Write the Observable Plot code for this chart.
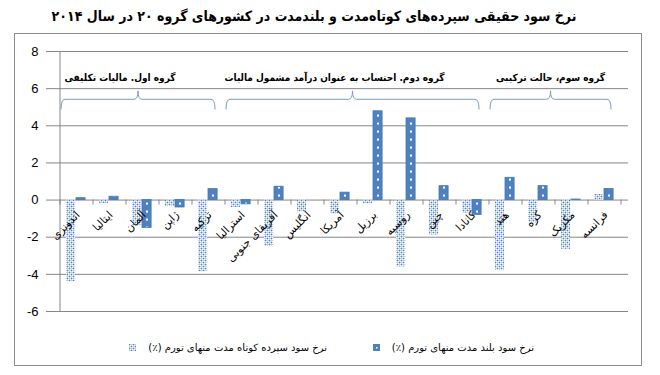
<!DOCTYPE html>
<html><head><meta charset="utf-8">
<script src="https://cdn.jsdelivr.net/npm/d3@7"></script>
<script src="https://cdn.jsdelivr.net/npm/@observablehq/plot@0.6"></script>
<style>
body{margin:0;background:#fff;width:660px;height:375px;position:relative;overflow:hidden;font-family:"DejaVu Sans",sans-serif;}
#title{position:absolute;left:20px;width:588px;top:8px;text-align:center;font-weight:bold;font-size:14px;font-family:"DejaVu Sans Condensed","DejaVu Sans",sans-serif;direction:rtl;color:#000;white-space:nowrap;}
#frame{position:absolute;left:14px;top:33px;width:626px;height:331px;border:1px solid #8c8c8c;}
#chart{position:absolute;left:0;top:0;}
.leg{position:absolute;top:308px;font-size:10px;direction:rtl;display:flex;align-items:center;gap:12px;white-space:nowrap;color:#000;}
.sw{width:7px;height:7px;display:inline-block;}
</style></head>
<body>
<div id="title">نرخ سود حقیقی سپرده‌های کوتاه‌مدت و بلندمدت در کشورهای گروه ۲۰ در سال ۲۰۱۴</div>
<div id="frame">
  <div id="chart"></div>
  <div class="leg" id="legLong" style="right:107px"><span>نرخ سود بلند مدت منهای تورم (٪)</span><svg class="sw" width="7" height="7"><rect width="7" height="7" fill="#4f81bd"/><rect x="3" y="3" width="1.5" height="1.5" fill="#fff"/></svg></div>
  <div class="leg" id="legShort" style="right:314px"><span>نرخ  سود سپرده کوتاه مدت منهای تورم (٪)</span><svg class="sw" width="7" height="7"><rect width="7" height="7" fill="url(#pShort)"/></svg></div>
</div>
<script>
// ---- data ----
const countries = ["اندونزی","ایتالیا","آلمان","ژاپن","ترکیه","استرالیا","آفریقای جنوبی","انگلیس","آمریکا","برزیل","روسیه","چین","کانادا","هند","کره","مکزیک","فرانسه"];
const shortRate = [-4.4,-0.18,-1.4,-0.35,-3.85,-0.4,-2.5,-0.63,-0.75,-0.2,-3.6,-1.88,-0.7,-3.8,-1.22,-2.65,0.3];
const longRate  = [0.1,0.18,-1.5,-0.4,0.59,-0.23,0.72,0,0.4,4.78,4.4,0.75,-0.8,1.2,0.75,0.03,0.6];
const yTicks = [-6,-4,-2,0,2,4,6,8];
const groupNames = ["گروه اول. مالیات تکلیفی","گروه دوم. احتساب به عنوان درآمد مشمول مالیات","گروه سوم، حالت ترکیبی"];
const groupStart = ["اندونزی","استرالیا","هند"];
const groupEnd   = ["ترکیه","کانادا","فرانسه"];
const seriesNames = ["نرخ  سود سپرده کوتاه مدت منهای تورم (٪)","نرخ سود بلند مدت منهای تورم (٪)"];

const rows = countries.map((c,i)=>({country:c, short:shortRate[i], long:longRate[i]}));

// ---- layout ----
const W = 626, H = 290, ML = 37, MR = 13, MT = 17, MB = 13;
const step = (W - ML - MR) / countries.length;
const barW = 10, shortIn = 6;
const longIn = shortIn + barW;
const gridColor = "#868686";
const brEnd = 4.85, brLine = 5.4, brTip = 5.85, brText = 6.55;

function defsMark(index, scales) {
  const x = scales.x, y = scales.y, bw = x.bandwidth();
  const defs = d3.create("svg:defs");
  const ps = defs.append("pattern").attr("id","pShort").attr("patternUnits","userSpaceOnUse").attr("width",4).attr("height",4);
  ps.append("rect").attr("width",4).attr("height",4).attr("fill","#bcd0ec");
  for (const [a,b] of [[1,1],[3,3],[3,1],[1,3]])
    ps.append("rect").attr("x",a).attr("y",b).attr("width",1).attr("height",1).attr("fill","#ffffff");
  for (const [a,b] of [[0,0],[2,2]])
    ps.append("rect").attr("x",a).attr("y",b).attr("width",1).attr("height",1).attr("fill","#4f81bd");
  const pl = defs.append("pattern").attr("id","pLong").attr("patternUnits","userSpaceOnUse")
    .attr("x", x(countries[0])).attr("y", y(0)).attr("width", bw).attr("height", 8);
  pl.append("rect").attr("width",bw).attr("height",8).attr("fill","#4f81bd");
  pl.append("rect").attr("x", longIn + barW/2 - 1).attr("y",3).attr("width",2).attr("height",2).attr("fill","#fff");
  return defs.node();
}

function axisDecor(index, scales) {
  const x = scales.x, y = scales.y, bw = x.bandwidth();
  const g = d3.create("svg:g").attr("stroke", gridColor).attr("fill","none");
  const x0 = x(countries[0]);
  g.append("line").attr("x1",x0).attr("x2",x0).attr("y1",y(8)).attr("y2",y(-6));
  const bounds = countries.map(c => x(c)).concat([x(countries[countries.length-1]) + bw]);
  for (const b of bounds) g.append("line").attr("x1",b).attr("x2",b).attr("y1",y(0)).attr("y2",y(0)+5);
  return g.node();
}

function brackets(index, scales) {
  const x = scales.x, y = scales.y, bw = x.bandwidth();
  const g = d3.create("svg:g");
  groupNames.forEach((name, i) => {
    const x0 = x(groupStart[i]) + 1, x1 = x(groupEnd[i]) + bw - 10;
    const xm = (x0 + x1) / 2, r = 4;
    const ye = y(brEnd), yl = y(brLine), yt = y(brTip);
    const p = d3.path();
    p.moveTo(x0, ye);
    p.quadraticCurveTo(x0, yl, x0 + r, yl);
    p.lineTo(xm - r, yl);
    p.quadraticCurveTo(xm, yl, xm, yt);
    p.quadraticCurveTo(xm, yl, xm + r, yl);
    p.lineTo(x1 - r, yl);
    p.quadraticCurveTo(x1, yl, x1, ye);
    g.append("path").attr("d", p.toString()).attr("fill","none").attr("stroke","#7f9bc4").attr("stroke-width",1);
    g.append("text").attr("x", xm - (i < 2 ? 18 : 0)).attr("y", y(brText)).attr("text-anchor","middle").attr("dominant-baseline","middle")
      .attr("font-family","DejaVu Sans Condensed, DejaVu Sans").attr("font-weight","bold").attr("font-size",10).attr("fill","#000").text(name);
  });
  return g.node();
}

const chart = Plot.plot({
  width: W, height: H,
  marginLeft: ML, marginRight: MR, marginTop: MT, marginBottom: MB,
  x: {type: "band", domain: countries, padding: 0, axis: null},
  y: {domain: [-6, 8], ticks: yTicks, tickSize: 0, tickPadding: 14, tickFormat: d => String(d), label: null},
  style: {fontFamily: "Liberation Sans, sans-serif", fontSize: "13px", color: "#000", background: "transparent", overflow: "visible"},
  marks: [
    defsMark,
    Plot.ruleY(yTicks, {stroke: gridColor, insetLeft: -6}),
    axisDecor,
    Plot.barY(rows, {x: "country", y: "short", fill: "url(#pShort)", insetLeft: shortIn, insetRight: step - shortIn - barW}),
    Plot.barY(rows, {x: "country", y: "long", fill: "url(#pLong)", stroke: "#4677b3", strokeWidth: 0.8, insetLeft: longIn, insetRight: step - longIn - barW}),
    Plot.text(countries, {x: d => d, y: 0, text: d => d, rotate: -45, textAnchor: "end", dx: 1, dy: 13, fontSize: 11, fontFamily: "DejaVu Sans", fill: "#000"}),
    brackets
  ]
});
document.getElementById("chart").appendChild(chart);
</script>
</body></html>
